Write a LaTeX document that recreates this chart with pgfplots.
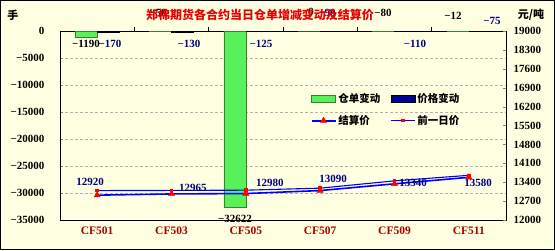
\documentclass[border=0pt]{standalone}
\usepackage{pgfplots}
\pgfplotsset{compat=1.18}
\usepackage{fontspec}
\setmainfont{Liberation Serif}
\newfontfamily\cjk{Noto Sans CJK SC}
\definecolor{bg}{RGB}{255,255,225}
\definecolor{gbar}{RGB}{90,240,90}
\definecolor{bbar}{RGB}{0,0,150}
\definecolor{catred}{RGB}{170,0,0}
\definecolor{navy}{RGB}{0,0,130}
\definecolor{titlered}{RGB}{230,0,0}
\newcommand{\nf}{\bfseries\fontsize{11}{12}\selectfont}
\pgfplotsset{
  lineleg/.style={legend image code/.code={\draw[mark repeat=2,mark phase=2,##1] plot coordinates {(0pt,0pt) (12pt,0pt) (24pt,0pt)};}},
  gleg/.style={legend image code/.code={\draw[fill=gbar, draw=gbar!55!black] (0pt,-3.5pt) rectangle (24pt,3.5pt);}},
  bleg/.style={legend image code/.code={\draw[fill=bbar, draw=black] (0pt,-3.5pt) rectangle (24pt,3.5pt);}},
}
\begin{document}
\begin{tikzpicture}
\fill[bg] (0pt,0pt) rectangle (555pt,250pt);
% ---------------- bars (left axis) ----------------
\begin{axis}[
  at={(60pt,30pt)}, anchor=south west, scale only axis,
  width=446pt, height=189pt,
  xmin=-0.5, xmax=5.5, ymin=-35000, ymax=0,
  clip=false, scaled y ticks=false,
  axis line style={black, line width=0.6pt},
  xtick={0,1,2,3,4,5},
  xticklabels={CF501,CF503,CF505,CF507,CF509,CF511},
  xtick pos=bottom, major x tick style={draw=none},
  xticklabel style={font=\bfseries\fontsize{11.5}{12}\selectfont, text=catred, yshift=-3pt},
  ytick={-35000,-30000,-25000,-20000,-15000,-10000,-5000,0},
  yticklabels={−35000,−30000,−25000,−20000,−15000,−10000,−5000,0},
  ytick pos=left, tick align=inside, major tick length=3pt,
  yticklabel style={font=\nf, xshift=-12pt},
  ymajorgrids, grid style={gray!60, dash pattern=on 3pt off 2pt},
]
\addplot[ybar, bar width=0.296, bar shift=-0.148, fill=gbar, draw=gbar!55!black, line width=0.4pt]
  coordinates {(0,-1190) (1,-50) (2,-32622) (3,0) (4,-80) (5,-12)};
\addplot[ybar, bar width=0.296, bar shift=0.148, fill=bbar, draw=black, line width=0.4pt]
  coordinates {(0,-170) (1,-130) (2,-125) (3,-90) (4,-110) (5,-75)};
% boundary ticks on category axis
\pgfplotsinvokeforeach{0.5,1.5,2.5,3.5,4.5}{
  \draw[black, line width=0.6pt] (axis cs:#1,0) -- ++(0pt,4pt);
}
% data labels
\node[font=\nf, text=black] at (axis cs:-0.150,-2407) {−1190};
\node[font=\nf, text=navy] at (axis cs:0.173,-2407) {−170};
\node[font=\nf, text=navy] at (axis cs:1.235,-2407) {−130};
\node[font=\nf, text=navy] at (axis cs:2.204,-2407) {−125};
\node[font=\nf, text=navy] at (axis cs:4.276,-2407) {−110};
\node[font=\nf, text=black] at (axis cs:1.854,-34815) {−32622};
\node[font=\nf, text=black] at (axis cs:0.818,3333) {−50};
\node[font=\nf, text=black] at (axis cs:2.877,3519) {0};
\node[font=\nf, text=navy] at (axis cs:3.092,3333) {−90};
\node[font=\nf, text=black] at (axis cs:3.845,3333) {−80};
\node[font=\nf, text=black] at (axis cs:4.787,2778) {−12};
\node[font=\nf, text=navy] at (axis cs:5.312,1852) {−75};
\end{axis}
% ---------------- prices (right axis) ----------------
\begin{axis}[
  at={(60pt,30pt)}, anchor=south west, scale only axis,
  width=446pt, height=189pt,
  xmin=-0.5, xmax=5.5, ymin=12000, ymax=19000,
  clip=false, scaled y ticks=false,
  axis x line=none, axis y line*=right,
  axis line style={black, line width=0.6pt},
  ytick={12000,12700,13400,14100,14800,15500,16200,16900,17600,18300,19000},
  tick align=inside, major tick length=3pt,
  /pgf/number format/.cd, set thousands separator={}, assume math mode=true,
  /pgfplots/.cd,
  yticklabel style={font=\nf, xshift=4pt},
  legend style={at={(0.555,0.69)}, anchor=north west, draw=none, fill=none,
    font=\cjk\bfseries\fontsize{10.5}{12}\selectfont,
    /tikz/every even column/.append style={column sep=8pt},
    row sep=7pt},
  legend columns=2,
  legend cell align=left,
]
\addlegendimage{gleg}
\addlegendimage{bleg}
\addplot[blue, line width=1.6pt, mark=triangle*, mark size=3.6pt,
  mark options={fill=red, draw=red, line width=0.4pt}, lineleg]
  coordinates {(0,12920) (1,12965) (2,12980) (3,13090) (4,13340) (5,13580)};
\addplot[blue, line width=1.1pt, mark=square*, mark size=1.2pt,
  mark options={fill=red, draw=red}, lineleg]
  coordinates {(0,13090) (1,13095) (2,13105) (3,13180) (4,13450) (5,13655)};
\legend{仓单变动,价格变动,结算价,前一日价}
\node[font=\nf, text=navy] at (axis cs:-0.096,13407) {12920};
\node[font=\nf, text=navy] at (axis cs:1.289,13185) {12965};
\node[font=\nf, text=navy] at (axis cs:2.325,13370) {12980};
\node[font=\nf, text=navy] at (axis cs:3.173,13519) {13090};
\node[font=\nf, text=navy] at (axis cs:4.249,13370) {13340};
\node[font=\nf, text=navy] at (axis cs:5.124,13370) {13580};
\end{axis}
% titles and units
\node[font=\cjk\bfseries\fontsize{12}{14}\selectfont, text=titlered] at (260pt,235pt) {郑棉期货各合约当日仓单增减变动及结算价};
\node[font=\cjk\bfseries\fontsize{11}{12}\selectfont] at (13pt,235pt) {手};
\node[font=\cjk\bfseries\fontsize{11}{12}\selectfont, inner sep=0pt] at (531pt,235pt) {元/吨};
\draw[black, line width=1.2pt] (0.6pt,0.6pt) rectangle (554.4pt,249.4pt);
\end{tikzpicture}
\end{document}
